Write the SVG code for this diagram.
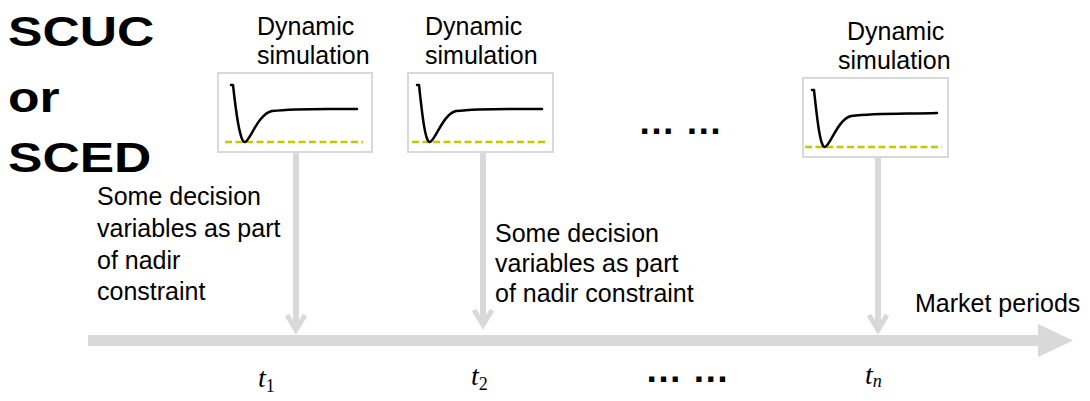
<svg xmlns="http://www.w3.org/2000/svg" width="1090" height="401" viewBox="0 0 1090 401">
  <style>
    .title { font-family: "Liberation Sans", Arial, sans-serif; font-weight: bold; font-size: 43px; fill: #000; }
    .lbl { font-family: "Liberation Sans", Arial, sans-serif; font-size: 25px; fill: #000; }
    .dots { font-family: "Liberation Sans", Arial, sans-serif; font-weight: bold; font-size: 37px; fill: #000; }
    .math { font-family: "Liberation Serif", "Times New Roman", serif; font-style: italic; font-size: 28px; fill: #000; }
    .sub { font-size: 18px; font-style: normal; }
    .subi { font-size: 18px; }
    .frame { fill: #fff; stroke: #d9d9d9; stroke-width: 2; }
    .resp { fill: none; stroke: #000; stroke-width: 2.5; stroke-linecap: round; stroke-linejoin: round; }
    .nadir { fill: none; stroke: #c4c800; stroke-width: 2.5; stroke-dasharray: 7 3.5; }
    .drop { fill: none; stroke: #d9d9d9; stroke-width: 6; }
    .head { fill: none; stroke: #d9d9d9; stroke-width: 5; stroke-linejoin: miter; }
  </style>

  <!-- heading -->
  <g id="heading" transform="translate(8,0) scale(1.2,1)">
    <text class="title" x="0" y="46">SCUC</text>
    <text class="title" x="0" y="112">or</text>
    <text class="title" x="0" y="172">SCED</text>
  </g>

  <!-- connectors: time axis and the drops from each simulation -->
  <g id="connectors">
    <rect x="88" y="335" width="952" height="11" fill="#d9d9d9"/>
    <polygon points="1038,324 1073,340.5 1038,357" fill="#d9d9d9"/>

    <line class="drop" x1="296" y1="153" x2="296" y2="329"/>
    <polyline class="head" points="287,315 296,330 305,315"/>

    <line class="drop" x1="483" y1="153" x2="483" y2="324"/>
    <polyline class="head" points="474,310 483,325 492,310"/>

    <line class="drop" x1="878" y1="158" x2="878" y2="329"/>
    <polyline class="head" points="869,315 878,330 887,315"/>
  </g>

  <!-- simulation 1 -->
  <g id="sim1">
    <text class="lbl" x="257" y="35">Dynamic</text>
    <text class="lbl" x="257" y="64">simulation</text>
    <rect class="frame" x="218" y="73" width="154" height="79"/>
    <line class="nadir" x1="225" y1="142" x2="363" y2="142"/>
    <path class="resp" d="M231,85 L233,85 C236,112 240,143 245,142 C250,141 258,114 272,111 C298,108 328,109 357,109"/>
  </g>

  <!-- simulation 2 -->
  <g id="sim2">
    <text class="lbl" x="425" y="35">Dynamic</text>
    <text class="lbl" x="425" y="64">simulation</text>
    <rect class="frame" x="408" y="73" width="145" height="79"/>
    <line class="nadir" x1="412" y1="142" x2="547" y2="142"/>
    <path class="resp" d="M417,85 L419,85 C422,112 425,143 430,142 C435,141 443,114 456,111 C482,108 512,109 542,109"/>
  </g>

  <!-- simulation n -->
  <g id="simn">
    <text class="lbl" x="847" y="40">Dynamic</text>
    <text class="lbl" x="838" y="69">simulation</text>
    <rect class="frame" x="803" y="78" width="145" height="79"/>
    <line class="nadir" x1="805" y1="147" x2="942" y2="147"/>
    <path class="resp" d="M812,90 L814,90 C817,117 820,148 825,147 C830,146 838,119 851,116 C877,113 907,114 937,113"/>
  </g>

  <!-- coupling notes -->
  <g id="note1">
    <text class="lbl" x="97" y="205">Some decision</text>
    <text class="lbl" x="97" y="237">variables as part</text>
    <text class="lbl" x="97" y="269">of nadir</text>
    <text class="lbl" x="97" y="300">constraint</text>
  </g>
  <g id="note2">
    <text class="lbl" x="495" y="242">Some decision</text>
    <text class="lbl" x="495" y="272">variables as part</text>
    <text class="lbl" x="495" y="302">of nadir constraint</text>
  </g>

  <g id="axis-label">
    <text class="lbl" x="915" y="312">Market periods</text>
  </g>

  <!-- ellipses -->
  <g id="ellipsis-top"><text class="dots" x="638" y="134">… …</text></g>
  <g id="ellipsis-bottom"><text class="dots" x="645" y="382">… …</text></g>

  <!-- period labels -->
  <g id="periods">
    <text class="math" x="258" y="387">t<tspan class="sub" dy="5">1</tspan></text>
    <text class="math" x="471" y="385">t<tspan class="sub" dy="5">2</tspan></text>
    <text class="math" x="865" y="384">t<tspan class="subi" dy="3">n</tspan></text>
  </g>
</svg>
